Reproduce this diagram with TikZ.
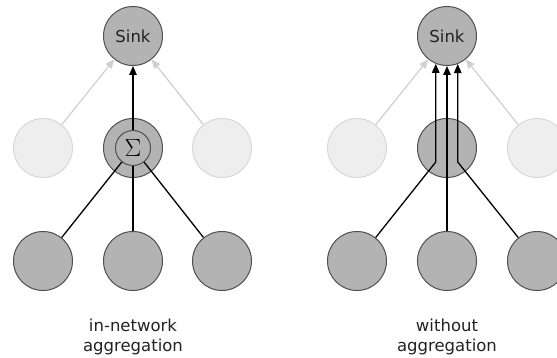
\documentclass[tikz,border=0pt]{standalone}
\usepackage{fontspec}
\setmainfont{DejaVu Sans}
\usetikzlibrary{arrows.meta}
\definecolor{nodefill}{HTML}{B3B3B3}
\definecolor{nodeedge}{HTML}{505050}
\definecolor{idlefill}{HTML}{EEEEEE}
\definecolor{idleedge}{HTML}{D8D8D8}
\definecolor{faintline}{HTML}{CFCFCF}
\definecolor{captext}{HTML}{222222}
\begin{document}
\begin{tikzpicture}[x=1pt,y=-1pt,
  sensor/.style={circle,draw=nodeedge,fill=nodefill,line width=1pt,
    minimum size=59pt,inner sep=0pt,font=\fontsize{16.5}{20}\selectfont,text=captext},
  idle/.style={circle,draw=idleedge,fill=idlefill,line width=1pt,
    minimum size=59pt,inner sep=0pt},
  sumbox/.style={circle,draw=nodeedge,fill=nodefill,line width=1pt,
    minimum size=35pt,inner sep=0pt,font=\fontsize{27}{27}\selectfont},
  hop/.style={line width=1.3pt,black},
  up/.style={hop,-{Triangle[length=9pt,width=7.5pt]}},
  faint/.style={line width=1.2pt,color=faintline,-{Triangle[length=9pt,width=7.5pt]}},
  caption/.style={align=center,font=\fontsize{16.5}{20.5}\selectfont,text=captext}]
\useasboundingbox (0,0) rectangle (557,358);
\clip (0,0) rectangle (557,358);

% ---- in-network aggregation ----
\node[sensor] (sinkA) at (133,36) {Sink};
\node[idle]   (ilA) at (43,148) {};
\node[idle]   (irA) at (222,148) {};
\node[sensor] (aggA) at (133,148) {};
\node[sumbox] (sumA) at (133,148) {$\Sigma$};
\node[sensor] (blA) at (43,261) {};
\node[sensor] (bmA) at (133,261) {};
\node[sensor] (brA) at (222,261) {};

\draw[faint] (ilA) -- (sinkA);
\draw[faint] (irA) -- (sinkA);
\draw[up] (sumA) -- (sinkA);
\draw[hop] (blA) -- (sumA);
\draw[hop] (bmA) -- (sumA);
\draw[hop] (brA) -- (sumA);

\node[caption] (capA) at (133,337) {in-network\\aggregation};

% ---- without aggregation ----
\node[sensor] (sinkB) at (447,36) {Sink};
\node[idle]   (ilB) at (357,148) {};
\node[idle]   (irB) at (537,148) {};
\node[sensor] (midB) at (447,148) {};
\node[sensor] (blB) at (357,261) {};
\node[sensor] (bmB) at (447,261) {};
\node[sensor] (brB) at (537,261) {};

\draw[faint] (ilB) -- (sinkB);
\draw[faint] (irB) -- (sinkB);

% relayed packets: bend inside the middle node, then straight up
\coordinate (bendy) at (0,162);
\draw[up] (blB) -- (sinkB.248.5 |- bendy) -- (sinkB.248.5);
\draw[up] (bmB) -- (sinkB);
\draw[up] (brB) -- (sinkB.291.5 |- bendy) -- (sinkB.291.5);

\node[caption] (capB) at (447,337) {without\\aggregation};
\end{tikzpicture}
\end{document}
